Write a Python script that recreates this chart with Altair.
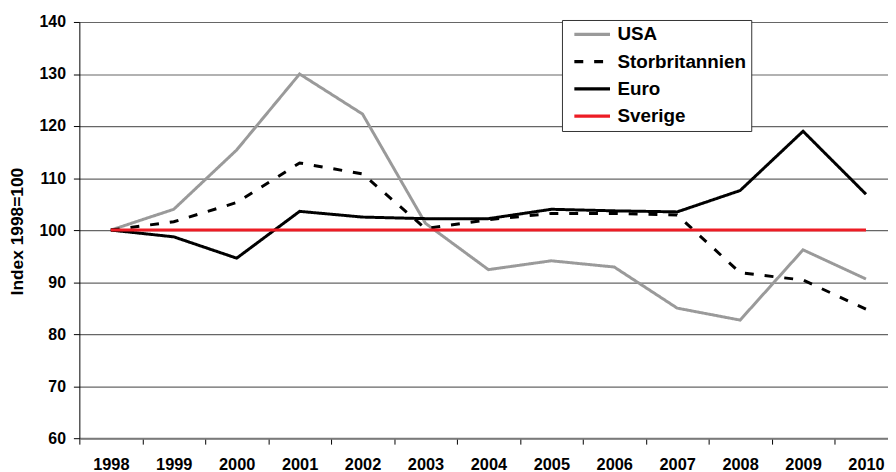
import altair as alt
import pandas as pd

years = list(range(1998, 2011))
series_names = ["USA", "Storbritannien", "Euro", "Sverige"]
usa = [100, 104.0, 115.4, 130.0, 122.3, 101.3, 92.4, 94.1, 92.9, 85.0, 82.7, 96.2, 90.6]
storbritannien = [100, 101.6, 105.3, 112.9, 110.8, 100.3, 102.0, 103.2, 103.2, 102.9, 91.8, 90.4, 84.8]
euro = [100, 98.7, 94.6, 103.6, 102.5, 102.2, 102.2, 104.0, 103.7, 103.5, 107.6, 119.0, 106.9]
sverige = [100, 100, 100, 100, 100, 100, 100, 100, 100, 100, 100, 100, 100]
y_ticks = [60, 70, 80, 90, 100, 110, 120, 130, 140]

colors = ["#9a9a9a", "#000000", "#000000", "#ed1c24"]
dashes = [[1, 0], [9, 11], [1, 0], [1, 0]]

rows = []
for order, (name, vals) in enumerate(zip(series_names, [usa, storbritannien, euro, sverige])):
    for yr, v in zip(years, vals):
        rows.append({"year": yr, "value": v, "series": name, "ord": order})
df = pd.DataFrame(rows)

FONT = "Liberation Sans"

legend = alt.Legend(
    title=None, orient="none", legendX=487, legendY=-2,
    fillColor="white", strokeColor="#333333",
    padding=5, symbolOffset=16, symbolType="M-3,0H3", symbolSize=144,
    symbolStrokeWidth=3.5, labelFont=FONT, labelFontWeight="bold",
    labelFontSize=19, labelColor="black", rowPadding=7.5, labelOffset=16,
)

chart = alt.Chart(df).mark_line(strokeWidth=3, clip=True).encode(
    x=alt.X("year:Q",
            scale=alt.Scale(domain=[1997.5, 2010.35], nice=False, zero=False),
            axis=alt.Axis(values=years, format="d", title=None,
                          tickOffset=-31.75, labelOffset=31.75,
                          grid=False, domainColor="#7a7a7a", domainWidth=2,
                          tickColor="#000000", tickSize=6, tickWidth=1,
                          labelFont=FONT, labelFontWeight="bold", labelFontSize=16.5,
                          labelColor="black", labelPadding=13, labelFlush=False,
                          labelOverlap=False)),
    y=alt.Y("value:Q",
            scale=alt.Scale(domain=[60, 140], nice=False, zero=False),
            axis=alt.Axis(values=y_ticks, title="Index 1998=100",
                          grid=True, gridColor="#666666", gridWidth=1.2,
                          domainColor="#000000", domainWidth=1,
                          tickColor="#000000", tickSize=6,
                          labelFont=FONT, labelFontWeight="bold", labelFontSize=16,
                          labelColor="black", labelPadding=8,
                          titleFont=FONT, titleFontWeight="bold", titleFontSize=17.5,
                          titleColor="black", titleAngle=-90, titleX=-62, titleY=211,
                          titleAlign="center", titleBaseline="middle")),
    color=alt.Color("series:N", scale=alt.Scale(domain=series_names, range=colors),
                    legend=legend),
    strokeDash=alt.StrokeDash("series:N", scale=alt.Scale(domain=series_names, range=dashes),
                              legend=legend),
    order=alt.Order("ord:Q"),
).properties(
    width=816, height=420,
    autosize=alt.AutoSizeParams(type="none"),
    padding={"left": 72, "top": 12, "right": 0, "bottom": 32},
).configure_view(strokeWidth=0)

chart.save("out.html", embed_options={"renderer": "svg", "actions": False})
